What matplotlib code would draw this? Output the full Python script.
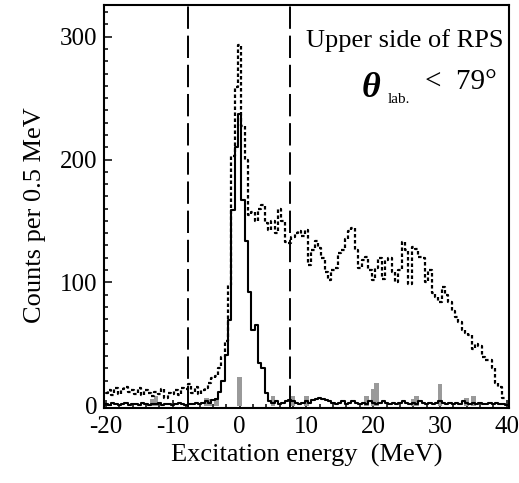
import numpy as np
import matplotlib
matplotlib.use("Agg")
import matplotlib.pyplot as plt

plt.rcParams['font.family'] = ['Liberation Serif', 'DejaVu Serif']

# bin centres, 0.5 MeV wide, from -20 to 40 MeV
energy = np.arange(-20.0, 40.01, 0.5)

# all events (dotted)
counts_all = (
    # -20 .. -4
    [10, 12, 8, 14, 9, 13, 15, 11, 12, 9, 14, 8, 12, 10, 7, 11, 9,
     13, 6, 10, 9, 12, 8, 14, 13, 17, 10, 15, 9, 12, 14, 18, 22]
    # -3.5 .. 7.5
    + [24, 30, 39, 52, 98, 203, 259, 293, 227, 200, 155, 157, 150, 160,
       163, 148, 143, 150, 140, 160, 150, 133, 132]
    # 8 .. 23.5
    + [137, 140, 142, 138, 143, 114, 126, 134, 128, 120, 108, 102, 110,
       112, 124, 126, 135, 142, 144, 126, 112, 118, 121, 110, 102, 112,
       120, 103, 118, 120, 108, 100]
    # 24 .. 40
    + [110, 133, 126, 99, 129, 127, 121, 120, 100, 110, 91, 88, 84, 96,
       90, 84, 77, 72, 68, 61, 59, 57, 46, 50, 48, 39, 37, 37, 30, 18,
       15, 6, 6]
)

# selected events (solid)
counts_sel = (
    # -20 .. -4
    [1, 0, 2, 1, 0, 1, 2, 0, 1, 1, 0, 2, 1, 0, 1, 1, 2, 0, 1, 1, 0,
     1, 2, 1, 0, 1, 1, 2, 1, 2, 3, 2, 4]
    # -3.5 .. 7.5
    + [5, 11, 20, 41, 69, 159, 210, 237, 167, 134, 92, 61, 65, 34, 30,
       10, 3, 2, 3, 1, 2, 3, 4]
    # 8 .. 23.5
    + [3, 2, 1, 2, 3, 2, 4, 5, 6, 5, 4, 3, 2, 1, 2, 3, 1, 2, 3, 2, 1,
       2, 1, 3, 2, 1, 2, 3, 2, 1, 2, 1]
    # 24 .. 40
    + [2, 3, 2, 1, 2, 1, 3, 2, 1, 2, 1, 2, 3, 2, 1, 2, 1, 2, 1, 3, 2,
       1, 2, 1, 2, 1, 1, 2, 1, 2, 1, 1, 0]
)

# background (grey), only the non-empty bins
grey_pos = [-13.0, -12.5, -5.0, -4.5, -3.5, 0.0, 5.0, 8.0, 10.0, 19.0,
            20.0, 20.5, 26.0, 26.5, 30.0, 34.0, 35.0]
grey_val = [6, 8, 7, 6, 7, 24, 8, 8, 8, 8, 14, 19, 6, 8, 18, 7, 8]

cut_lines = [-7.7, 7.5]

fig = plt.figure(figsize=(5.19, 4.83), dpi=100)
ax = fig.add_axes([0.2004, 0.155, 0.7806, 0.835])

ax.bar(grey_pos, grey_val, width=0.7, bottom=-1, color='#9a9a9a',
       linewidth=0, zorder=2)
ax.step(energy, counts_all, where='mid', color='black', lw=1.6,
        dashes=(1.6, 1.1), zorder=3)
ax.step(energy, counts_sel, where='mid', color='black', lw=1.5, zorder=4)

for x in cut_lines:
    ax.axvline(x, color='black', lw=1.4, dashes=(11.5, 3.5), zorder=1)

ax.set_xlim(-20.3, 40.35)
ax.set_ylim(-2.5, 326)
ax.set_xticks([-20, -10, 0, 10, 20, 30, 40])
ax.set_xticklabels(['-20', '-10', '0', '10', '20', '30', '40'])
ax.set_xticks(np.arange(-20, 41, 2), minor=True)
ax.set_yticks([0, 100, 200, 300])
ax.set_yticks(np.arange(0, 321, 10), minor=True)
ax.tick_params(which='both', direction='in', top=False, right=False,
               labelsize=18, width=1.1)
ax.tick_params(which='major', length=6)
ax.tick_params(which='minor', length=3)
ax.tick_params(axis='x', pad=6)
ax.tick_params(axis='y', pad=5)
for s in ax.spines.values():
    s.set_linewidth(1.5)

ax.set_xlabel('Excitation energy  (MeV)', fontsize=19, labelpad=4)
ax.set_ylabel('Counts per 0.5 MeV', fontsize=19)
ax.yaxis.set_label_coords(-0.143, 0.479)

# legend-like annotation
ax.text(0.985, 0.896, 'Upper side of RPS', transform=ax.transAxes,
        ha='right', va='baseline', fontsize=19)
ax.text(0.635, 0.772, 'θ', transform=ax.transAxes, ha='left',
        va='baseline', fontsize=26, style='italic', weight='bold')
ax.text(0.70, 0.757, 'lab.', transform=ax.transAxes, ha='left',
        va='baseline', fontsize=11)
ax.text(0.970, 0.792, '<  79°', transform=ax.transAxes, ha='right',
        va='baseline', fontsize=21)

fig.savefig('out.png', dpi=100)
